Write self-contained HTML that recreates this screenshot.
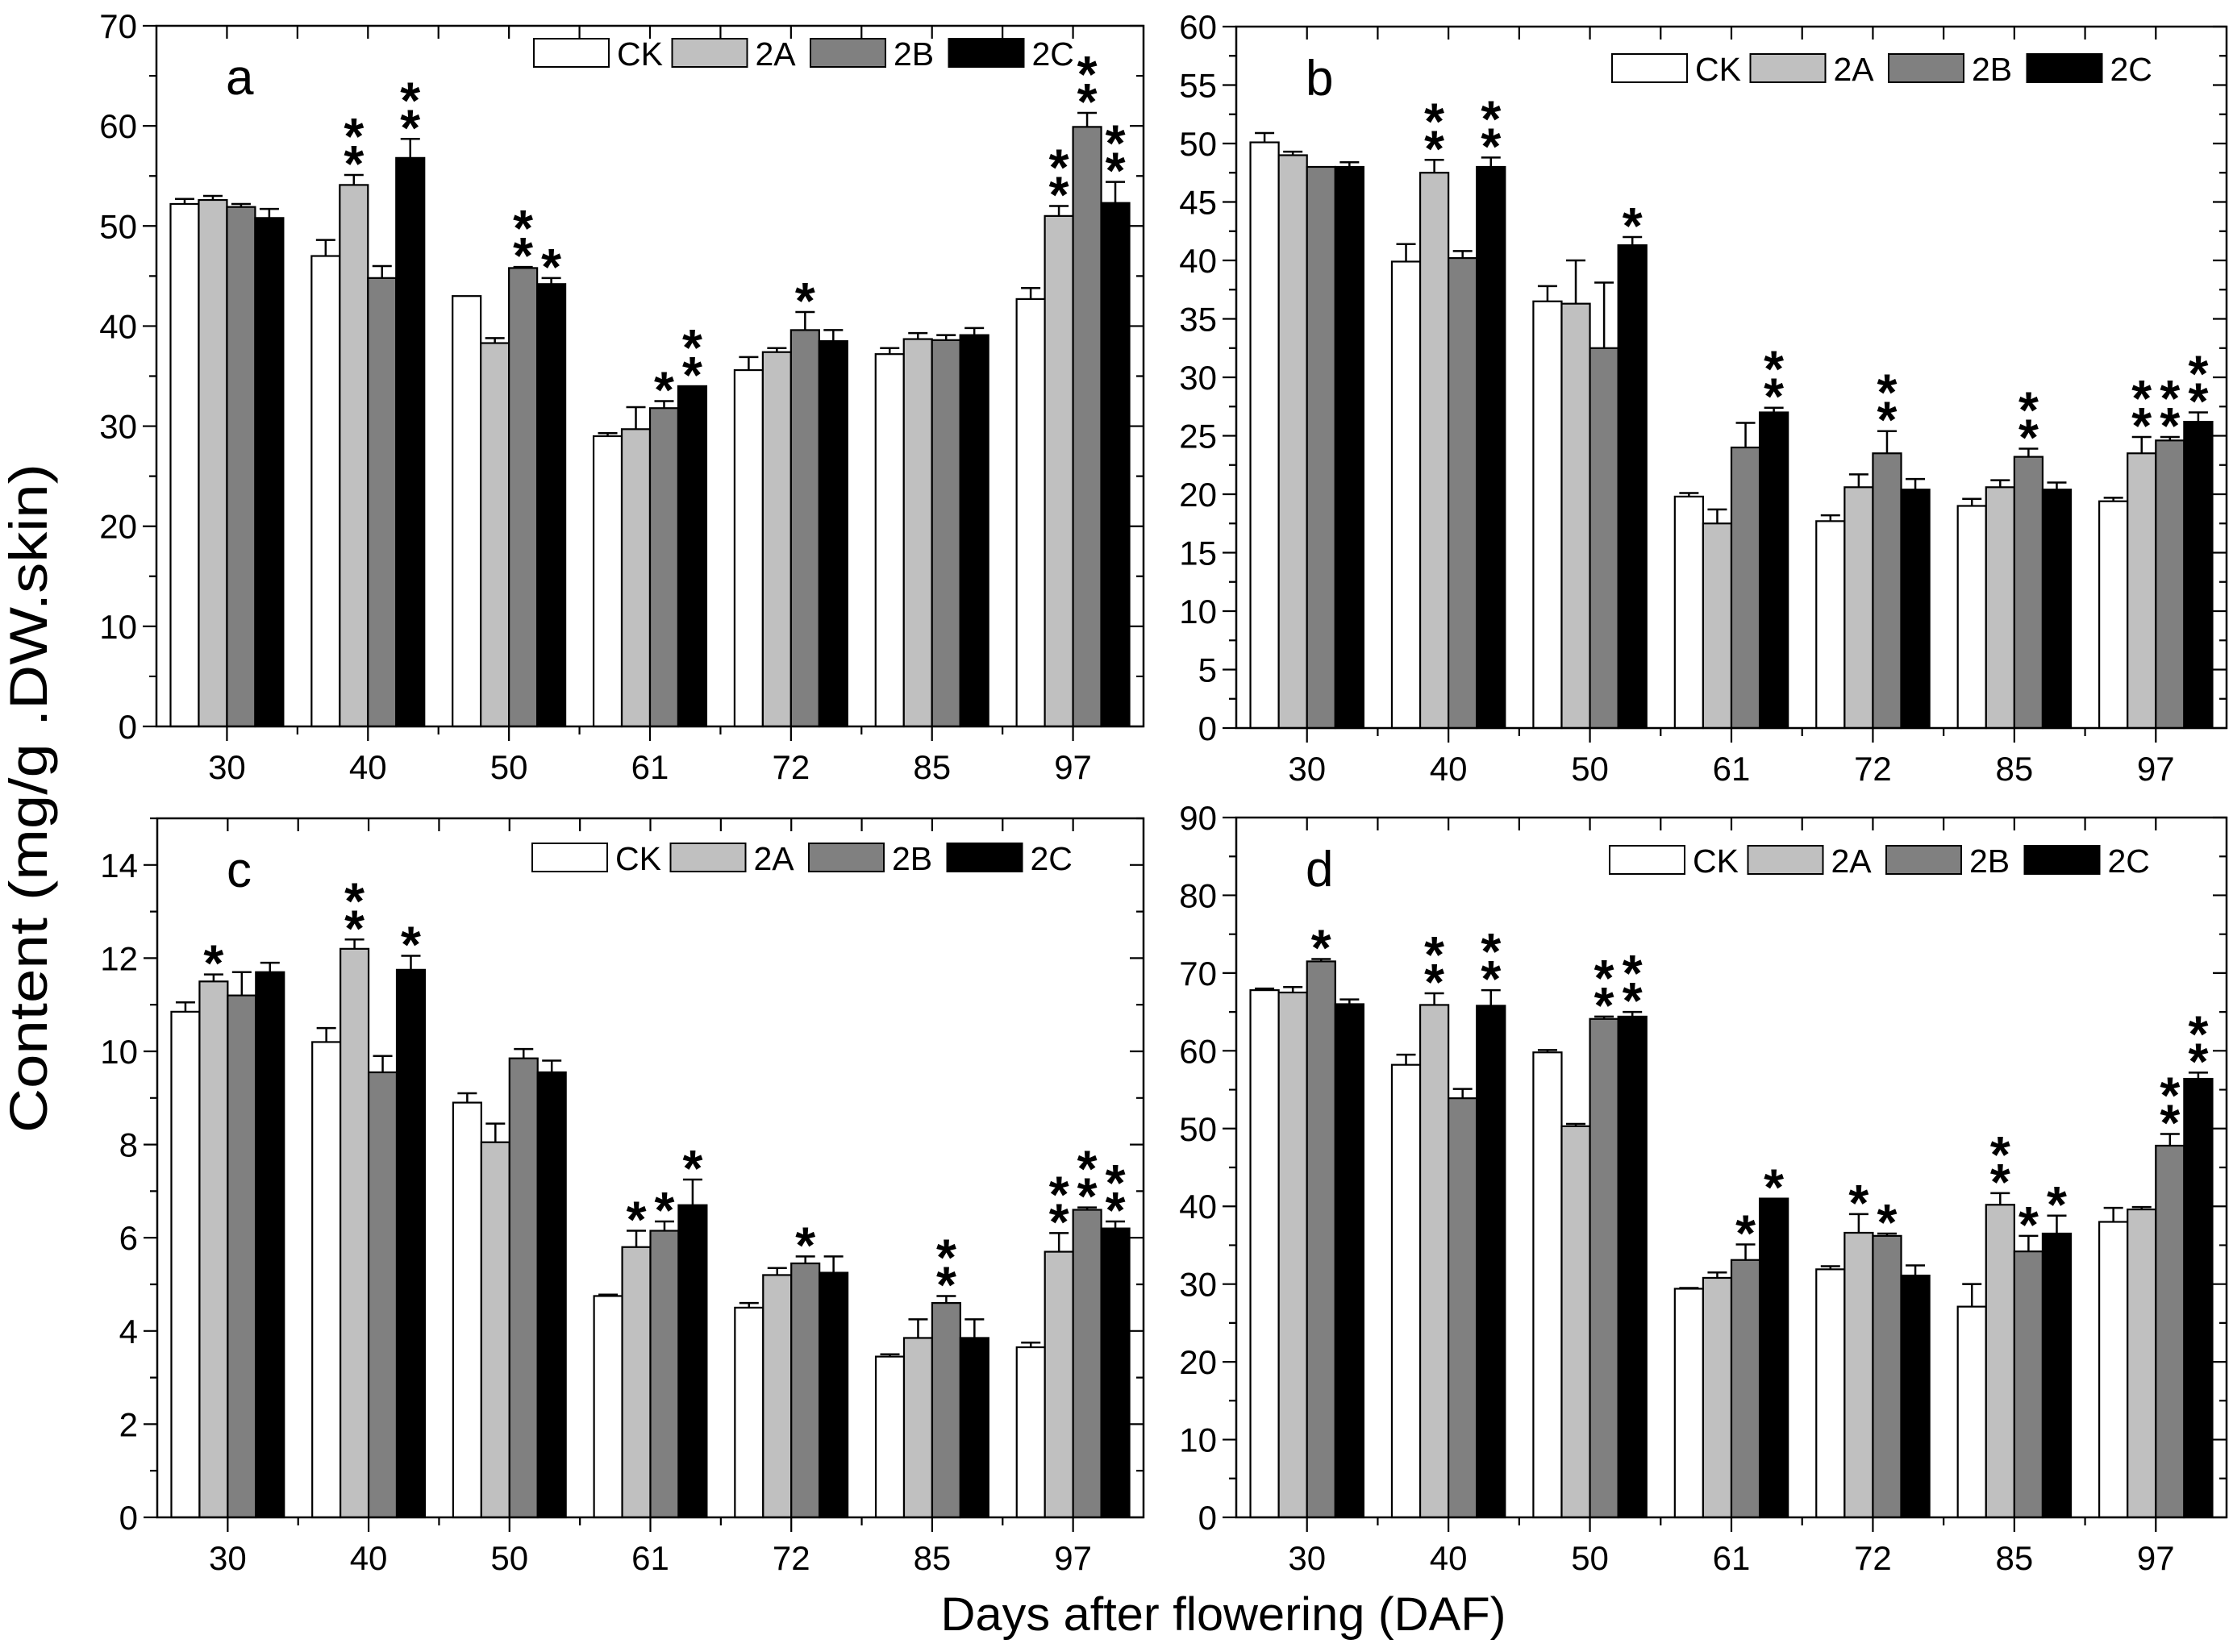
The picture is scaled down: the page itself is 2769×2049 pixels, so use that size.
<!DOCTYPE html>
<html><head><meta charset="utf-8"><style>
html,body{margin:0;padding:0;background:#fff;}
svg{display:block;font-family:"Liberation Sans",Arial,sans-serif;}
</style></head><body>
<svg id="fig" width="2769" height="2049" viewBox="0 0 2769 2049" xmlns="http://www.w3.org/2000/svg">
<rect x="0" y="0" width="2769" height="2049" fill="#fff"/>
<text x="0" y="0" transform="translate(58,990) rotate(-90)" text-anchor="middle" font-size="66" textLength="830" lengthAdjust="spacingAndGlyphs">Content (mg/g .DW.skin)</text>
<text x="1517" y="2022" text-anchor="middle" font-size="58" textLength="701" lengthAdjust="spacingAndGlyphs">Days after flowering (DAF)</text>
</svg>
<script>
const categories = ["30","40","50","61","72","85","97"];
const seriesNames = ["CK","2A","2B","2C"];
const seriesColors = ["#ffffff","#c0c0c0","#808080","#000000"];

// Panel a
const aCK = [52.2,47.0,43.0,29.0,35.6,37.2,42.7];
const a2A = [52.6,54.1,38.3,29.7,37.4,38.7,51.0];
const a2B = [51.9,44.8,45.8,31.8,39.6,38.6,59.9];
const a2C = [50.8,56.8,44.2,34.0,38.5,39.1,52.3];
const aErrCK = [0.5,1.6,0,0.3,1.3,0.6,1.1];
const aErr2A = [0.4,1.0,0.5,2.2,0.4,0.6,1.0];
const aErr2B = [0.3,1.2,0.1,0.7,1.8,0.5,1.4];
const aErr2C = [0.9,1.9,0.6,0,1.1,0.7,2.1];
const aStars2A = [0,2,0,0,0,0,2];
const aStars2B = [0,0,2,1,1,0,2];
const aStars2C = [0,2,1,2,0,0,2];
const aTicks = [0,10,20,30,40,50,60,70];

// Panel b
const bCK = [50.1,39.9,36.5,19.8,17.7,19.0,19.4];
const b2A = [49.0,47.5,36.3,17.5,20.6,20.6,23.5];
const b2B = [48.0,40.2,32.5,24.0,23.5,23.2,24.6];
const b2C = [48.0,48.0,41.3,27.0,20.4,20.4,26.2];
const bErrCK = [0.8,1.5,1.3,0.3,0.5,0.6,0.3];
const bErr2A = [0.3,1.1,3.7,1.2,1.1,0.6,1.4];
const bErr2B = [0,0.6,5.6,2.1,1.9,0.7,0.3];
const bErr2C = [0.4,0.8,0.7,0.4,0.9,0.6,0.8];
const bStars2A = [0,2,0,0,0,0,2];
const bStars2B = [0,0,0,0,2,2,2];
const bStars2C = [0,2,1,2,0,0,2];
const bTicks = [0,5,10,15,20,25,30,35,40,45,50,55,60];

// Panel c
const cCK = [10.85,10.2,8.9,4.75,4.5,3.45,3.65];
const c2A = [11.5,12.2,8.05,5.8,5.2,3.85,5.7];
const c2B = [11.2,9.55,9.85,6.15,5.45,4.6,6.6];
const c2C = [11.7,11.75,9.55,6.7,5.25,3.85,6.2];
const cErrCK = [0.2,0.3,0.2,0.03,0.1,0.05,0.1];
const cErr2A = [0.15,0.2,0.4,0.35,0.15,0.4,0.4];
const cErr2B = [0.5,0.35,0.2,0.2,0.15,0.15,0.05];
const cErr2C = [0.2,0.3,0.25,0.55,0.35,0.4,0.15];
const cStars2A = [1,2,0,1,0,0,2];
const cStars2B = [0,0,0,1,1,2,2];
const cStars2C = [0,1,0,1,0,0,2];
const cTicks = [0,2,4,6,8,10,12,14];

// Panel d
const dCK = [67.8,58.2,59.8,29.4,31.9,27.1,38.0];
const d2A = [67.5,65.9,50.3,30.8,36.6,40.2,39.6];
const d2B = [71.5,53.9,64.1,33.1,36.2,34.2,47.8];
const d2C = [66.0,65.8,64.4,41.0,31.1,36.5,56.4];
const dErrCK = [0.2,1.3,0.3,0.1,0.4,2.9,1.8];
const dErr2A = [0.7,1.5,0.3,0.7,2.4,1.5,0.3];
const dErr2B = [0.3,1.2,0.3,2.0,0.3,2.0,1.5];
const dErr2C = [0.6,2.0,0.6,0,1.3,2.3,0.8];
const dStars2A = [0,2,0,0,1,2,0];
const dStars2B = [1,0,2,1,1,1,2];
const dStars2C = [0,2,2,1,0,1,2];
const dTicks = [0,10,20,30,40,50,60,70,80,90];

const NS = "http://www.w3.org/2000/svg";
const svg = document.getElementById('fig');
function mk(tag, attrs, parent){
  const e = document.createElementNS(NS, tag);
  for (const k in attrs) e.setAttribute(k, attrs[k]);
  (parent||svg).appendChild(e);
  return e;
}

const panels = [
  {id:'a', left:194, right:1418, top:32, y0:901, max:70, minor:5, ticks:aTicks,
   vals:[aCK,a2A,a2B,a2C], errs:[aErrCK,aErr2A,aErr2B,aErr2C], stars:[null,aStars2A,aStars2B,aStars2C], legendX:662, legendY:48},
  {id:'b', left:1533, right:2761, top:33, y0:903, max:60, minor:2.5, ticks:bTicks,
   vals:[bCK,b2A,b2B,b2C], errs:[bErrCK,bErr2A,bErr2B,bErr2C], stars:[null,bStars2A,bStars2B,bStars2C], legendX:1999, legendY:67},
  {id:'c', left:195, right:1418, top:1015, y0:1882, max:15, minor:1, ticks:cTicks,
   vals:[cCK,c2A,c2B,c2C], errs:[cErrCK,cErr2A,cErr2B,cErr2C], stars:[null,cStars2A,cStars2B,cStars2C], legendX:660, legendY:1046},
  {id:'d', left:1533, right:2761, top:1014, y0:1882, max:90, minor:5, ticks:dTicks,
   vals:[dCK,d2A,d2B,d2C], errs:[dErrCK,dErr2A,dErr2B,dErr2C], stars:[null,dStars2A,dStars2B,dStars2C], legendX:1996, legendY:1049}
];

panels.forEach(p => {
  const g = mk('g', {});
  
  
  const yS = v => p.y0 - (v / p.max) * (p.y0 - p.top);
  const cw = (p.right - p.left) / categories.length;
  const xC = i => p.left + cw * (i + 0.5);
  const bw = cw * 0.2;

  p.vals.forEach((arr, s) => {
    arr.forEach((v, i) => {
      const x = xC(i) - 2 * bw + s * bw;
      const y = yS(v);
      const r = mk('rect', {x:x, y:y, width:bw, height:p.y0 - y, fill:seriesColors[s], stroke:'#000', 'stroke-width':2.2}, g);
      
      
      const e = p.errs[s][i];
      const cx = x + bw / 2;
      if (e > 0) {
        const yt = yS(v + e);
        const eb = mk('path', {d:`M${cx},${y} V${yt} M${cx-12},${yt} H${cx+12}`, stroke:'#000', 'stroke-width':2.5, fill:'none'}, g);
        
        
      }
      if (p.stars[s] && p.stars[s][i] > 0) {
        const base = yS(v + e);
        for (let k = 0; k < p.stars[s][i]; k++) {
          const t = mk('text', {x:cx, y:base + 8 - k * 34, 'text-anchor':'middle', 'font-size':64, 'font-weight':'bold'}, g);
          
          
          t.textContent = '*';
        }
      }
    });
  });

  const fr = mk('rect', {x:p.left, y:p.top, width:p.right - p.left, height:p.y0 - p.top, fill:'none', stroke:'#000', 'stroke-width':2.5}, g);
  
  

  let d = '';
  for (let v = 0; v <= p.max + 1e-9; v += p.minor) {
    const y = yS(v);
    const major = p.ticks.some(t => Math.abs(t - v) < 1e-9);
    const L = major ? 17 : 9;
    d += `M${p.left - L},${y} H${p.left} M${p.right},${y} H${p.right - L} `;
  }
  for (let i = 0; i <= categories.length * 2; i++) {
    const x = p.left + cw * i / 2;
    if (i === 0 || i === categories.length * 2) continue;
    const centre = i % 2 === 1;
    d += `M${x},${p.y0} V${p.y0 + (centre ? 18 : 10)} M${x},${p.top} V${p.top + 16} `;
  }
  const tk = mk('path', {d:d, stroke:'#000', 'stroke-width':2.2, fill:'none'}, g);
  
  

  p.ticks.forEach(t => {
    const lab = mk('text', {x:p.left - 24, y:yS(t) + 15, 'text-anchor':'end', 'font-size':42}, g);
    
    
    lab.textContent = String(t);
  });
  categories.forEach((c, i) => {
    const lab = mk('text', {x:xC(i), y:p.y0 + 65, 'text-anchor':'middle', 'font-size':42}, g);
    
    
    lab.textContent = c;
  });

  const pl = mk('text', {x:p.left + 86, y:p.top + 85, 'font-size':62}, g);
  
  
  pl.textContent = p.id;

  seriesNames.forEach((n, s) => {
    const lx = p.legendX + s * 171.5;
    const lb = mk('rect', {x:lx, y:p.legendY, width:93, height:35, fill:seriesColors[s], stroke:'#000', 'stroke-width':2}, g);
    
    
    const lt = mk('text', {x:lx + 103, y:p.legendY + 33, 'font-size':41}, g);
    
    
    lt.textContent = n;
  });
});
</script>
</body></html>
